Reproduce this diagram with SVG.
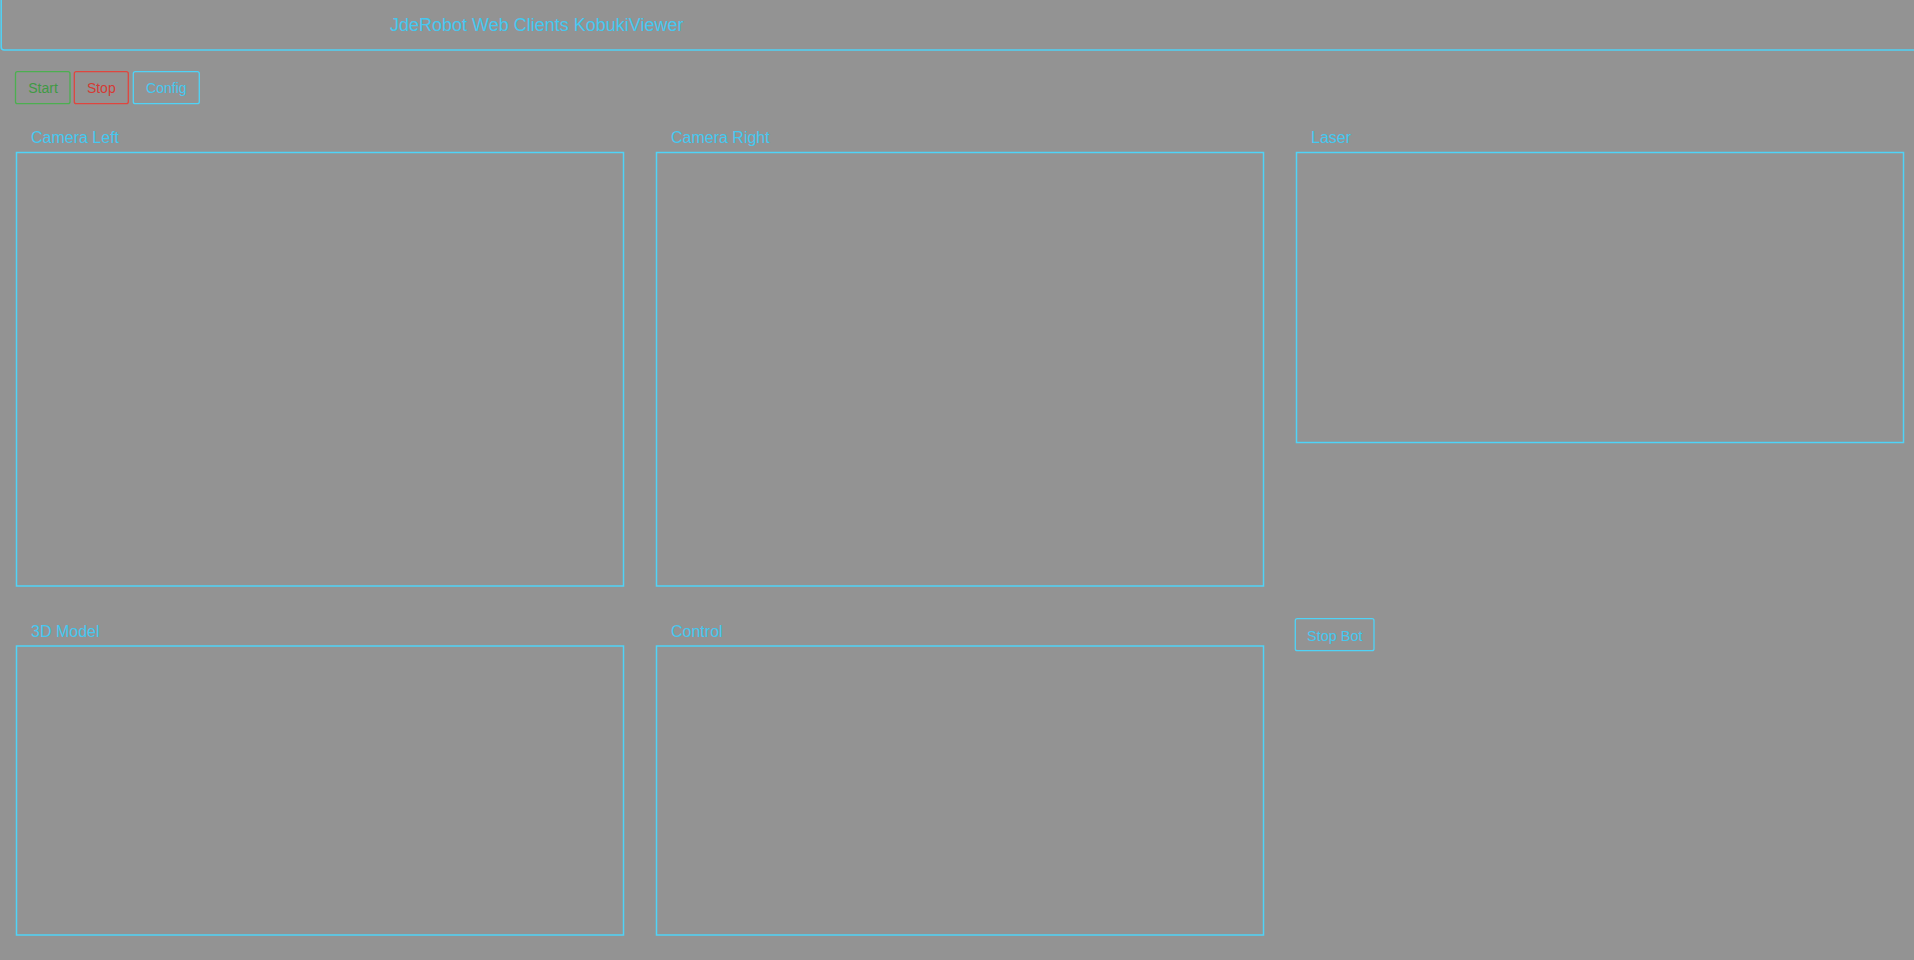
<svg xmlns="http://www.w3.org/2000/svg" width="1914" height="960" viewBox="0 0 1914 960">
<style>
.bg{fill:#939393}
.line{fill:none;stroke:#4fd3f7;stroke-width:1.5}
.panel{fill:none;stroke:#4fd3f7;stroke-width:1.5}
.lbl{font-family:"Liberation Sans",Arial,sans-serif;font-size:16px;fill:#45c8f0}
.title{font-family:"Liberation Sans",Arial,sans-serif;font-size:18px;fill:#45c8f0;text-anchor:middle}
.btxt{font-family:"Liberation Sans",Arial,sans-serif;font-size:14px;text-anchor:middle}
.btn{fill:none;stroke-width:1.3}
</style>
<rect class="bg" x="0" y="0" width="1914" height="960"/>
<g id="header">
  <path class="line" d="M1.2,-2 V47 Q1.2,50 4.2,50 H1920"/>
  <text class="title" x="536.7" y="31">JdeRobot Web Clients KobukiViewer</text>
</g>
<g id="btn-start">
  <rect class="btn" x="15.5" y="71.7" width="54.5" height="32" rx="2" stroke="#4caf50"/>
  <text class="btxt" x="43" y="92.7" fill="#3f9a44">Start</text>
</g>
<g id="btn-stop">
  <rect class="btn" x="74.3" y="71.7" width="54" height="32" rx="2" stroke="#e0463e"/>
  <text class="btxt" x="101.3" y="92.7" fill="#d53a33">Stop</text>
</g>
<g id="btn-config">
  <rect class="btn" x="133.3" y="71.7" width="66" height="32" rx="2" stroke="#4fd3f7"/>
  <text class="btxt" x="166.3" y="92.7" fill="#45c8f0">Config</text>
</g>
<g id="camera-left">
  <text class="lbl" x="31" y="143">Camera Left</text>
  <rect class="panel" x="16.5" y="152.5" width="607" height="433.5"/>
</g>
<g id="camera-right">
  <text class="lbl" x="671" y="143">Camera Right</text>
  <rect class="panel" x="656.5" y="152.5" width="607" height="433.5"/>
</g>
<g id="laser">
  <text class="lbl" x="1311" y="143">Laser</text>
  <rect class="panel" x="1296.5" y="152.5" width="607" height="290"/>
</g>
<g id="model-3d">
  <text class="lbl" x="31" y="636.7">3D Model</text>
  <rect class="panel" x="16.5" y="646" width="607" height="289"/>
</g>
<g id="control">
  <text class="lbl" x="671" y="636.7">Control</text>
  <rect class="panel" x="656.5" y="646" width="607" height="289"/>
</g>
<g id="btn-stop-bot">
  <rect class="btn" x="1295.3" y="618.7" width="78.7" height="32" rx="2" stroke="#4fd3f7"/>
  <text class="btxt" x="1334.8" y="640.5" fill="#45c8f0" style="font-size:14.5px">Stop Bot</text>
</g>
<g id="connectors"/>
</svg>
